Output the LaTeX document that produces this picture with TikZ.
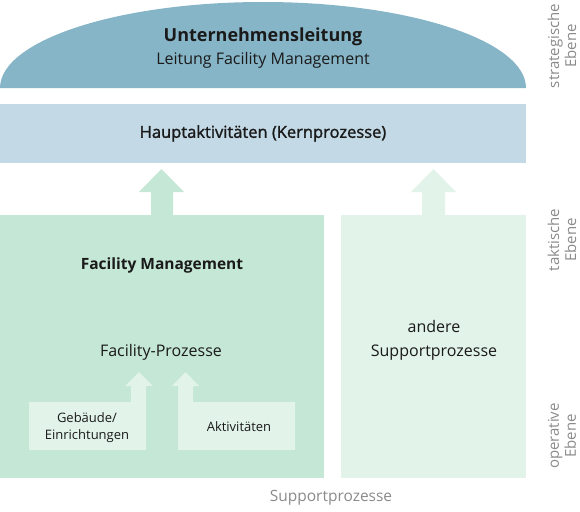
\documentclass[tikz,border=0pt]{standalone}
\usepackage{fontspec}
\setmainfont{Open Sans}
\newfontfamily\semibold[FakeBold=1.6]{Open Sans}
\definecolor{domeblue}{HTML}{87B5C8}
\definecolor{barblue}{HTML}{C3D9E5}
\definecolor{fmgreen}{HTML}{C5E7D5}
\definecolor{ltgreen}{HTML}{E2F3EA}
\definecolor{txt}{HTML}{1A1A1A}
\definecolor{lbl}{HTML}{8A8A8A}
\tikzset{
  blockbox/.style={inner sep=0pt, outer sep=0pt, anchor=north west},
  maintext/.style={text=txt, font=\fontsize{16}{19}\selectfont, align=center, inner sep=0pt},
  smalltext/.style={text=txt, font=\fontsize{13}{17}\selectfont, align=center, inner sep=0pt},
  leveltext/.style={text=lbl, font=\fontsize{15}{17}\selectfont, align=center, inner sep=0pt, rotate=90},
}
\begin{document}
\begin{tikzpicture}[x=1pt,y=-1pt]
\useasboundingbox (0,0) rectangle (580,511);
% dome
\fill[domeblue] (0,88) arc[start angle=180,end angle=360,x radius=263,y radius=86] -- cycle;
\node[maintext, font=\bfseries\fontsize{18}{20}\selectfont] (ul) at (263,37) {Unternehmensleitung};
\node[maintext] (lfm) at (263,60) {Leitung Facility Management};
% core bar
\node[blockbox, fill=barblue, minimum width=526pt, minimum height=59pt] (kern) at (0,104) {};
\node[maintext, font=\semibold\fontsize{16.5}{19}\selectfont] (kerntxt) at (kern.center) {Hauptaktivitäten (Kernprozesse)};
% boxes
\node[blockbox, fill=fmgreen, minimum width=324pt, minimum height=263pt] (fm) at (0,215) {};
\node[blockbox, fill=ltgreen, minimum width=185pt, minimum height=263pt] (asp) at (341,215) {};
% big arrows
\fill[fmgreen] (151,215) -- (151,192) -- (139,192) -- (161.5,169) -- (184,192) -- (173,192) -- (173,215) -- cycle;
\fill[ltgreen] (422,215) -- (422,192) -- (411,192) -- (433.5,169) -- (456,192) -- (445,192) -- (445,215) -- cycle;
% small boxes with arrows
\fill[ltgreen] (29,402) -- (131,402) -- (131,386) -- (125,386) -- (139,372) -- (153,386) -- (146,386) -- (146,450) -- (29,450) -- cycle;
\fill[ltgreen] (295,402) -- (193,402) -- (193,386) -- (199,386) -- (185.5,372) -- (172,386) -- (178,386) -- (178,450) -- (295,450) -- cycle;
% texts
\node[maintext, font=\bfseries\fontsize{15.5}{19}\selectfont] (fmt) at (162,265) {Facility Management};
\node[maintext] (fp) at (161,352) {Facility-Prozesse};
\node[smalltext] (geb) at (87,428) {Gebäude/\\Einrichtungen};
\node[smalltext] (akt) at (239,427) {Aktivitäten};
\node[maintext, font=\fontsize{16}{24}\selectfont] (andere) at (434,340) {andere\\Supportprozesse};
\node[maintext, text=lbl, font=\fontsize{15.5}{19}\selectfont] (sp) at (331,498) {Supportprozesse};
% level labels
\node[leveltext] (strat) at (562,46) {strategische\\Ebene};
\node[leveltext] (takt) at (562,240) {taktische\\Ebene};
\node[leveltext] (oper) at (562,436) {operative\\Ebene};
\end{tikzpicture}
\end{document}
